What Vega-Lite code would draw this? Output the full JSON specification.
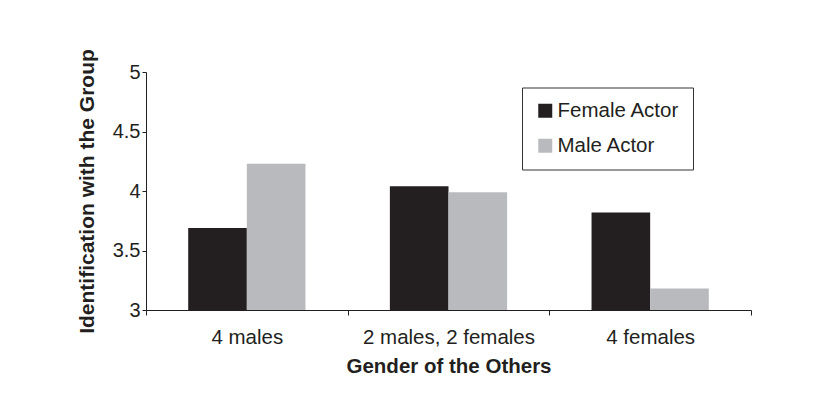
{
  "$schema": "https://vega.github.io/schema/vega-lite/v6.json",
  "autosize": "none",
  "width": 605,
  "height": 238,
  "padding": {"left": 146, "top": 72, "right": 68, "bottom": 96},
  "background": "white",
  "config": {
    "font": "Liberation Sans",
    "view": {"stroke": null},
    "axis": {"grid": false, "domainColor": "#231f20", "tickColor": "#231f20", "labelColor": "#231f20", "titleColor": "#231f20", "labelFont": "Liberation Sans", "titleFont": "Liberation Sans"}
  },
  "data": {
    "values": [
      {"others": "4 males", "actor": "Female Actor", "identification": 3.69},
      {"others": "4 males", "actor": "Male Actor", "identification": 4.23},
      {"others": "2 males, 2 females", "actor": "Female Actor", "identification": 4.04},
      {"others": "2 males, 2 females", "actor": "Male Actor", "identification": 3.99},
      {"others": "4 females", "actor": "Female Actor", "identification": 3.82},
      {"others": "4 females", "actor": "Male Actor", "identification": 3.18}
    ]
  },
  "mark": {"type": "bar"},
  "encoding": {
    "x": {
      "field": "others",
      "type": "nominal",
      "sort": ["4 males", "2 males, 2 females", "4 females"],
      "scale": {"paddingInner": 0, "paddingOuter": 0},
      "axis": {
        "title": "Gender of the Others",
        "labelAngle": 0,
        "tickBand": "extent",
        "tickSize": 5,
        "labelPadding": 12,
        "labelFontSize": 20.5,
        "titleFontSize": 20.5,
        "titleFontWeight": "bold",
        "titleBaseline": "alphabetic",
        "titleY": 62.5
      }
    },
    "xOffset": {
      "field": "actor",
      "type": "nominal",
      "scale": {"paddingInner": 0, "paddingOuter": 0.72}
    },
    "y": {
      "field": "identification",
      "type": "quantitative",
      "scale": {"domain": [3, 5], "zero": false, "nice": false},
      "axis": {
        "title": "Identification with the Group",
        "values": [3, 3.5, 4, 4.5, 5],
        "format": "~g",
        "tickSize": 4,
        "labelPadding": 2,
        "labelFontSize": 20,
        "titleFontSize": 21,
        "titleFontWeight": "bold",
        "titleAngle": -90,
        "titleBaseline": "alphabetic",
        "titleAlign": "center",
        "titleX": -52.5,
        "titleY": 119
      }
    },
    "y2": {"datum": 3},
    "color": {
      "field": "actor",
      "type": "nominal",
      "scale": {"domain": ["Female Actor", "Male Actor"], "range": ["#231f20", "#b9babe"]},
      "legend": {
        "title": null,
        "orient": "none",
        "legendX": 376,
        "legendY": 15.5,
        "padding": 13,
        "strokeColor": "#333333",
        "fillColor": "white",
        "symbolType": "square",
        "symbolSize": 196,
        "symbolStrokeWidth": 0,
        "symbolOpacity": 1,
        "labelFontSize": 20.5,
        "labelColor": "#231f20",
        "labelOffset": 2,
        "rowPadding": 14
      }
    }
  }
}
